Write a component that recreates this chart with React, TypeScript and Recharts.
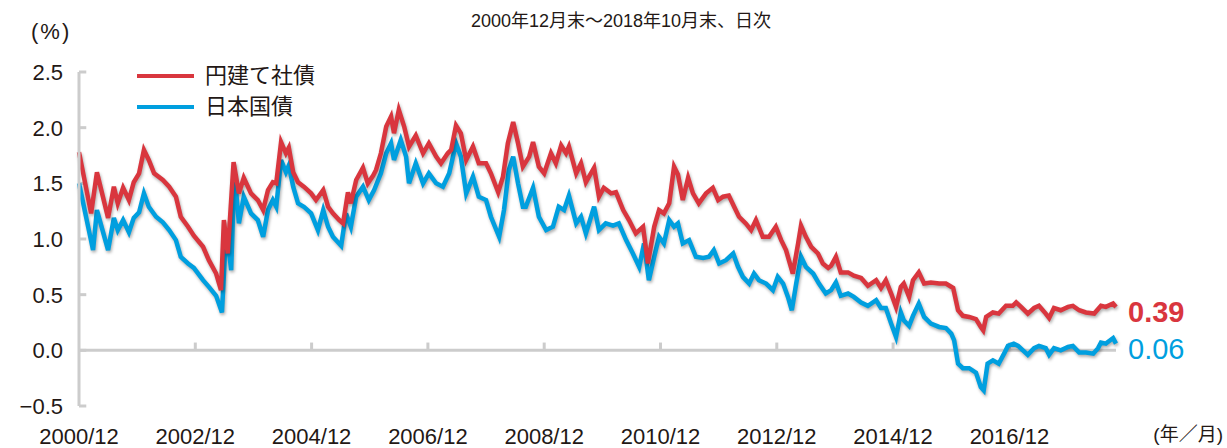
import { LineChart, Line, XAxis, YAxis, ReferenceLine } from "recharts";

// months counted from 2000/12, yields in %
const corpT = [0, 2.5, 3.7, 6.0, 7.2, 8.0, 9.1, 10.3, 11.3, 12.4, 13.4, 14.4, 15.5, 17.3, 18.6, 20.0, 21.0, 22.5, 23.7, 25.6, 26.8, 28.3, 29.3, 29.9, 30.7, 31.9, 33.0, 34.0, 35.5, 36.9, 38.0, 39.0, 40.0, 40.7, 41.7, 42.7, 43.3, 44.2, 45.2, 46.4, 47.9, 48.9, 50.4, 51.4, 52.4, 53.7, 54.5, 55.5, 56.1, 57.2, 58.6, 59.6, 60.7, 61.3, 62.3, 63.4, 64.4, 65.0, 66.0, 67.1, 68.1, 69.5, 71.0, 72.2, 73.7, 74.7, 76.1, 76.8, 77.8, 78.8, 79.9, 81.3, 82.5, 84.0, 85.0, 86.5, 87.5, 88.5, 89.6, 90.6, 91.6, 92.9, 93.7, 94.9, 96.0, 97.4, 98.4, 99.5, 100.5, 101.1, 102.6, 103.6, 104.6, 106.3, 107.3, 108.3, 109.8, 110.8, 112.3, 113.5, 114.9, 116.4, 117.4, 118.7, 119.7, 120.7, 121.8, 122.8, 123.6, 124.6, 125.7, 126.7, 127.9, 129.4, 130.8, 131.9, 132.9, 134.1, 135.2, 136.2, 137.6, 138.7, 139.7, 141.1, 142.4, 143.8, 144.9, 145.9, 147.3, 148.4, 149.0, 150.0, 151.1, 152.5, 153.5, 154.6, 155.2, 156.2, 157.2, 158.7, 159.9, 161.4, 162.8, 164.5, 165.5, 166.5, 167.6, 168.6, 169.6, 170.2, 171.3, 172.1, 173.3, 174.4, 175.8, 177.5, 178.9, 180.4, 181.4, 182.4, 183.7, 185.1, 186.1, 186.6, 187.2, 188.6, 189.8, 191.3, 192.7, 193.4, 194.4, 195.8, 197.1, 198.1, 199.5, 200.2, 201.2, 202.6, 204.1, 205.1, 206.4, 207.8, 209.5, 210.9, 211.9, 213.4, 214];
const corpY = [1.78, 1.23, 1.60, 1.19, 1.47, 1.32, 1.46, 1.35, 1.51, 1.59, 1.80, 1.71, 1.59, 1.53, 1.47, 1.38, 1.20, 1.11, 1.03, 0.93, 0.81, 0.69, 0.54, 1.17, 0.87, 1.69, 1.41, 1.55, 1.41, 1.35, 1.26, 1.44, 1.51, 1.50, 1.87, 1.77, 1.82, 1.60, 1.51, 1.47, 1.41, 1.35, 1.44, 1.29, 1.23, 1.17, 1.14, 1.42, 1.32, 1.53, 1.64, 1.50, 1.57, 1.62, 1.77, 2.01, 2.10, 1.95, 2.16, 2.01, 1.83, 1.93, 1.77, 1.86, 1.74, 1.68, 1.77, 1.80, 2.02, 1.95, 1.71, 1.83, 1.68, 1.68, 1.59, 1.42, 1.56, 1.86, 2.05, 1.86, 1.65, 1.74, 1.87, 1.65, 1.59, 1.77, 1.68, 1.84, 1.77, 1.83, 1.59, 1.68, 1.51, 1.64, 1.38, 1.46, 1.41, 1.42, 1.26, 1.17, 1.05, 1.11, 0.78, 1.11, 1.26, 1.23, 1.32, 1.65, 1.58, 1.35, 1.55, 1.41, 1.32, 1.41, 1.46, 1.35, 1.38, 1.39, 1.29, 1.20, 1.14, 1.08, 1.17, 1.02, 1.02, 1.11, 0.99, 0.90, 0.69, 0.96, 1.12, 1.02, 0.93, 0.87, 0.78, 0.74, 0.76, 0.84, 0.70, 0.70, 0.67, 0.65, 0.58, 0.63, 0.56, 0.63, 0.51, 0.39, 0.57, 0.60, 0.48, 0.63, 0.70, 0.60, 0.61, 0.60, 0.60, 0.56, 0.36, 0.31, 0.30, 0.28, 0.21, 0.18, 0.30, 0.34, 0.33, 0.40, 0.40, 0.43, 0.39, 0.33, 0.38, 0.40, 0.33, 0.29, 0.38, 0.36, 0.39, 0.40, 0.36, 0.34, 0.33, 0.40, 0.39, 0.42, 0.39];

const jgbT = [0, 2.9, 3.7, 6.0, 7.2, 8.0, 9.1, 10.3, 11.3, 12.4, 13.4, 14.4, 15.9, 17.3, 18.6, 20.0, 21.0, 22.5, 23.7, 25.6, 26.8, 28.3, 29.5, 30.1, 30.7, 31.4, 32.0, 32.4, 33.0, 34.0, 35.5, 36.9, 38.0, 39.0, 40.0, 40.7, 41.7, 42.7, 43.3, 44.2, 45.2, 46.4, 47.9, 49.3, 50.4, 51.4, 52.4, 54.1, 55.1, 56.1, 57.2, 58.6, 59.8, 60.9, 62.3, 63.4, 64.4, 65.0, 66.4, 67.5, 68.1, 69.5, 71.0, 72.2, 73.7, 75.1, 76.4, 77.8, 78.8, 79.9, 81.3, 82.5, 84.0, 85.0, 86.7, 87.7, 88.7, 89.6, 90.6, 91.6, 92.2, 93.7, 94.9, 96.4, 97.8, 99.0, 100.1, 101.1, 102.6, 103.6, 104.6, 106.3, 107.3, 108.7, 110.2, 111.4, 112.9, 114.3, 115.6, 116.6, 117.6, 118.7, 119.7, 120.7, 121.8, 122.8, 123.6, 124.6, 125.9, 127.3, 128.8, 130.0, 131.0, 132.1, 133.5, 135.0, 136.0, 137.0, 138.3, 139.3, 140.3, 141.8, 143.2, 144.2, 145.3, 146.3, 147.1, 148.0, 149.0, 150.0, 151.5, 152.7, 154.1, 155.2, 156.2, 157.2, 158.7, 159.9, 161.4, 162.8, 164.5, 165.5, 166.5, 167.6, 168.6, 169.6, 170.2, 171.3, 172.1, 173.3, 174.4, 175.8, 177.5, 178.9, 180.0, 180.6, 181.4, 182.4, 183.7, 185.1, 186.1, 186.7, 187.5, 188.6, 189.8, 190.9, 191.7, 192.9, 193.8, 194.8, 195.8, 197.1, 198.1, 199.5, 200.2, 201.2, 202.6, 204.1, 205.1, 206.4, 207.8, 209.3, 210.3, 210.9, 211.9, 213.4, 214];
const jgbY = [1.50, 0.90, 1.26, 0.90, 1.19, 1.08, 1.17, 1.06, 1.19, 1.24, 1.41, 1.29, 1.20, 1.15, 1.08, 0.99, 0.84, 0.78, 0.74, 0.63, 0.57, 0.49, 0.34, 0.85, 0.99, 0.72, 1.51, 1.44, 1.14, 1.38, 1.23, 1.17, 1.02, 1.26, 1.35, 1.29, 1.71, 1.60, 1.66, 1.47, 1.32, 1.29, 1.23, 1.08, 1.26, 1.11, 1.02, 0.94, 1.23, 1.11, 1.38, 1.47, 1.35, 1.44, 1.59, 1.77, 1.86, 1.71, 1.89, 1.74, 1.50, 1.68, 1.50, 1.59, 1.50, 1.47, 1.59, 1.86, 1.74, 1.41, 1.56, 1.38, 1.35, 1.20, 1.02, 1.26, 1.62, 1.74, 1.50, 1.29, 1.29, 1.46, 1.20, 1.08, 1.11, 1.29, 1.26, 1.39, 1.14, 1.20, 1.05, 1.29, 1.08, 1.14, 1.12, 1.14, 0.99, 0.87, 0.75, 0.96, 0.63, 0.84, 1.02, 0.96, 1.17, 1.11, 1.14, 0.96, 0.99, 0.84, 0.83, 0.84, 0.90, 0.78, 0.81, 0.87, 0.75, 0.66, 0.60, 0.69, 0.63, 0.60, 0.54, 0.66, 0.60, 0.48, 0.36, 0.60, 0.84, 0.75, 0.69, 0.60, 0.51, 0.54, 0.61, 0.49, 0.51, 0.48, 0.43, 0.40, 0.45, 0.38, 0.38, 0.24, 0.12, 0.34, 0.27, 0.22, 0.31, 0.42, 0.30, 0.24, 0.21, 0.20, 0.15, 0.09, -0.12, -0.16, -0.16, -0.20, -0.33, -0.36, -0.12, -0.09, -0.12, -0.03, 0.04, 0.06, 0.04, 0.00, -0.04, 0.02, 0.04, 0.02, -0.04, 0.02, 0.00, 0.03, 0.04, -0.02, -0.02, -0.03, 0.02, 0.07, 0.06, 0.11, 0.06];

const yTicks = [-0.5, 0, 0.5, 1.0, 1.5, 2.0, 2.5];
const xTickMonths = [0, 24, 48, 72, 96, 120, 144, 168, 192];
const xTickLabels = ["2000/12", "2002/12", "2004/12", "2006/12", "2008/12", "2010/12", "2012/12", "2014/12", "2016/12"];

const RED = "#d9363e";
const BLUE = "#009fdf";
const GRID = "#cccccc";
const TEXT = "#231815";
const FONT = "'Liberation Sans', 'Noto Sans CJK JP', sans-serif";

const corpData = corpT.map((t, i) => ({ t, y: corpY[i] }));
const jgbData = jgbT.map((t, i) => ({ t, y: jgbY[i] }));

const legendItems = [
  { name: "円建て社債", color: RED },
  { name: "日本国債", color: BLUE },
];

function YTick({ x, y, payload }: any) {
  const v = payload.value as number;
  const s = v < 0 ? "\u2212" + Math.abs(v).toFixed(1) : v.toFixed(1);
  return (
    <text x={x - 16} y={y} dy="0.36em" textAnchor="end" fontSize={22} fill={TEXT} fontFamily={FONT}>
      {s}
    </text>
  );
}

function XTick({ x, y, payload }: any) {
  const i = xTickMonths.indexOf(payload.value);
  return (
    <text x={x} y={y + 38} textAnchor="middle" fontSize={22} fill={TEXT} fontFamily={FONT}>
      {xTickLabels[i]}
    </text>
  );
}

function endLabel(color: string, last: number, bold: boolean) {
  return (props: any) => {
    if (props.index !== last) return null;
    return (
      <text x={props.x + 12} y={props.y + 5} dy="0.36em" fontSize={29} fontWeight={bold ? 700 : 400} fill={color} fontFamily={FONT}>
        {Number(props.value).toFixed(2)}
      </text>
    );
  };
}

export default function App() {
  return (
    <div className="chart-wrap" style={{ position: "absolute", left: 0, top: 0, width: 1227, height: 448, background: "#fff", fontFamily: FONT }}>
      <style>{`.chart-wrap .recharts-line-curve{filter:drop-shadow(1.5px 2px 1.5px rgba(0,0,0,0.32));}`}</style>
      <div style={{ position: "absolute", left: 0, width: 1242, top: 6, textAlign: "center", fontSize: 18, color: TEXT }}>
        2000年12月末～2018年10月末、日次
      </div>
      <div style={{ position: "absolute", left: 31, top: 19, fontSize: 22, letterSpacing: 2, color: TEXT }}>(%)</div>
      <div style={{ position: "absolute", right: 4, top: 422, fontSize: 19, lineHeight: "26px", whiteSpace: "nowrap", color: TEXT }}>(年／月)</div>
      <div style={{ position: "absolute", left: 137, top: 60, zIndex: 2 }}>
        {legendItems.map((it) => (
          <div key={it.name} style={{ display: "flex", alignItems: "center", height: 31 }}>
            <span style={{ display: "inline-block", width: 57, height: 4, background: it.color, marginRight: 11 }} />
            <span style={{ fontSize: 22, color: TEXT, lineHeight: "31px" }}>{it.name}</span>
          </div>
        ))}
      </div>
      <LineChart width={1227} height={448} margin={{ top: 72, right: 111, bottom: 12, left: 0 }}>
        <XAxis
          type="number"
          dataKey="t"
          domain={[0, 214]}
          ticks={xTickMonths}
          interval={0}
          height={30}
          axisLine={false}
          tickLine={false}
          tickSize={0}
          tickMargin={0}
          tick={<XTick />}
          allowDuplicatedCategory={false}
        />
        <YAxis
          type="number"
          domain={[-0.5, 2.5]}
          ticks={yTicks}
          width={79}
          axisLine={{ stroke: GRID, strokeWidth: 3 }}
          tickLine={false}
          tickSize={0}
          tickMargin={0}
          tick={<YTick />}
        />
        {yTicks.map((v) => (
          <ReferenceLine key={"y" + v} segment={[{ x: 0, y: v }, { x: 1.5, y: v }]} stroke={GRID} strokeWidth={3} />
        ))}
        <ReferenceLine y={0} stroke={GRID} strokeWidth={3} />
        {xTickMonths.slice(1).map((m) => (
          <ReferenceLine key={"x" + m} segment={[{ x: m, y: 0 }, { x: m, y: 0.07 }]} stroke={GRID} strokeWidth={3} />
        ))}
        <Line
          data={jgbData}
          dataKey="y"
          name="日本国債"
          type="linear"
          stroke={BLUE}
          strokeWidth={4.5}
          dot={false}
          isAnimationActive={false}
          label={endLabel(BLUE, jgbData.length - 1, false)}
        />
        <Line
          data={corpData}
          dataKey="y"
          name="円建て社債"
          type="linear"
          stroke={RED}
          strokeWidth={4.5}
          dot={false}
          isAnimationActive={false}
          label={endLabel(RED, corpData.length - 1, true)}
        />
      </LineChart>
    </div>
  );
}
